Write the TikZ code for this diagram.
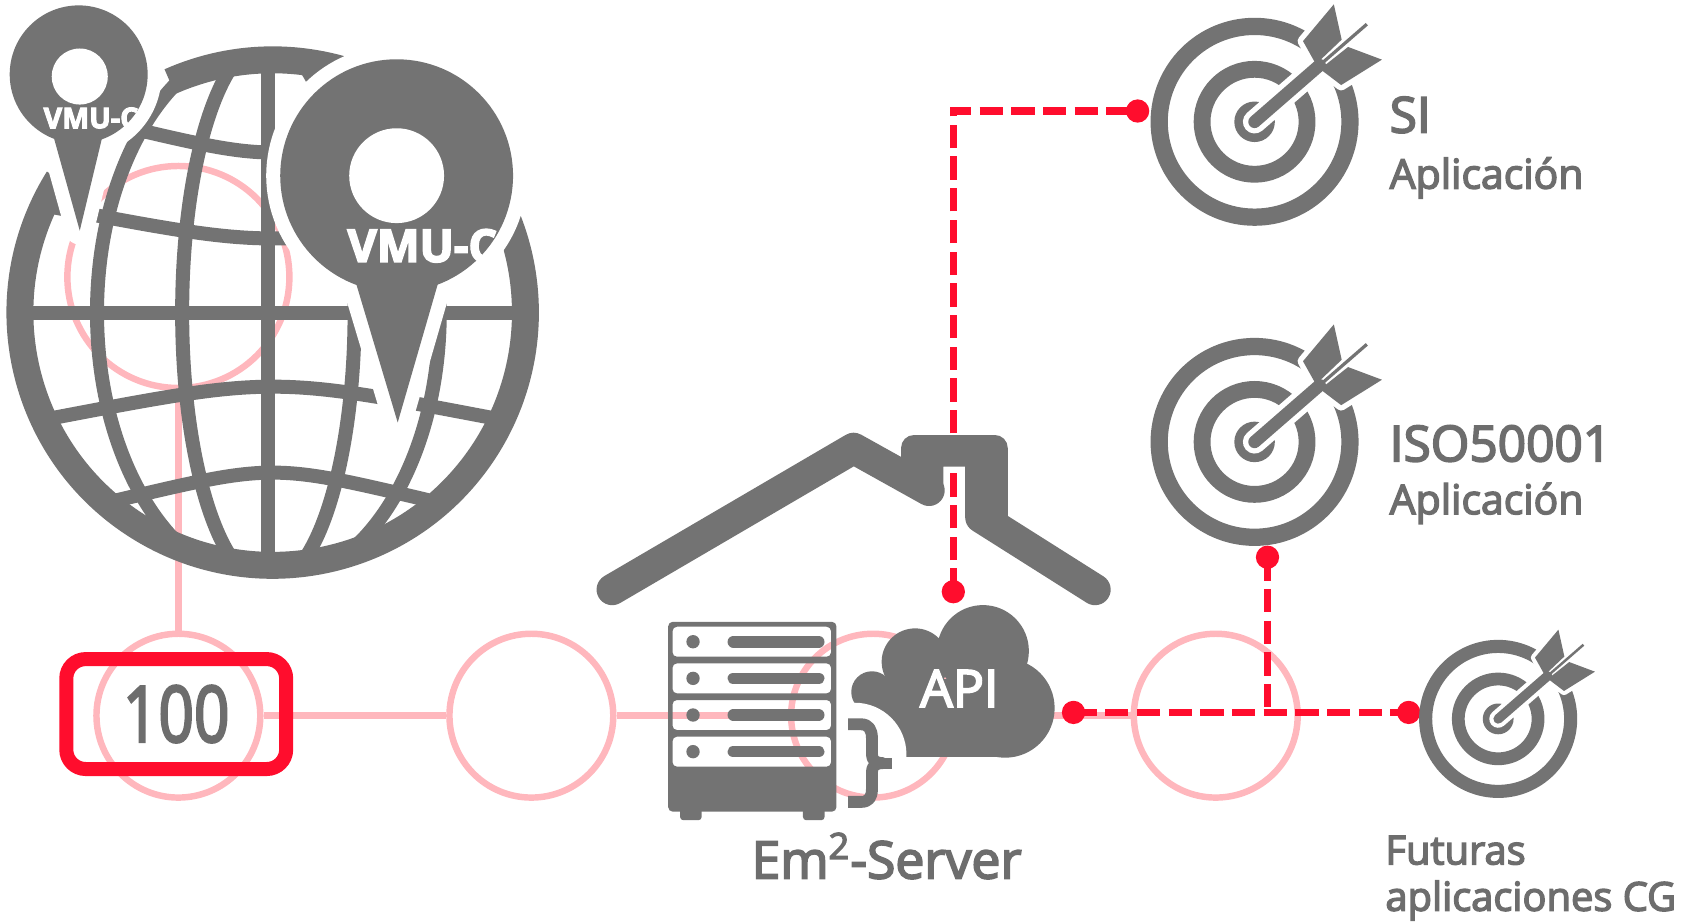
\documentclass[tikz,border=0pt]{standalone}
\usepackage{fontspec}
\setmainfont{Open Sans}[FakeBold=3.5]
\usepackage{graphicx}

\definecolor{IconGray}{HTML}{737373}
\definecolor{LabelGray}{HTML}{6D6D6D}
\definecolor{LinkPink}{HTML}{FFB7BD}
\definecolor{AlertRed}{HTML}{FF0D2D}

\tikzset{
	hub/.style={circle, draw=LinkPink, line width=3pt, inner sep=0pt},
	pinklink/.style={draw=LinkPink, line width=3pt},
	redlink/.style={draw=AlertRed, line width=3.5pt, dash pattern=on 10.8pt off 3.9pt},
	gridline/.style={draw=IconGray, line width=6.5pt},
	halo/.style={draw=white, line width=13pt, line join=round},
	tagtext/.style={text=LabelGray, anchor=base west, inner sep=0pt},
	pintext/.style={text=white, anchor=base west, inner sep=0pt},
	countbox/.style={draw=AlertRed, line width=6.5pt, rounded corners=9pt,
		minimum width=102pt, minimum height=51pt, inner sep=0pt, text=LabelGray,
		font=\fontsize{36pt}{36pt}\selectfont}
}

% target with a dart: centre x, centre y, scale
\newcommand{\dartboard}[3]{%
	\begin{scope}[shift={(#1,#2)}, scale=#3]
		\draw[IconGray, line width=8pt*#3] (0,0) circle (88.5);
		\draw[IconGray, line width=7.8pt*#3] (0,0) circle (48.7);
		\fill[IconGray] (0,0) circle (18.8);
		\begin{scope}[rotate=41]
			% white cut round the dart
			\draw[white, line width=10.85pt*#3, line cap=round] (0,0) -- (80,0);
			\draw[white, line width=6.5pt*#3] (78,0) -- (138,0);
			\filldraw[white, line width=5pt*#3, line join=round] (78,3) -- (83,27) -- (127,34) -- (111,4.5) -- cycle;
			\filldraw[white, line width=5pt*#3, line join=round] (78,-3) -- (83,-27) -- (127,-34) -- (111,-4.5) -- cycle;
			% dart
			\draw[IconGray, line width=5.85pt*#3, line cap=round] (0,0) -- (80,0);
			\draw[IconGray, line width=1.5pt*#3] (78,0) -- (138,0);
			\fill[IconGray] (78,3) -- (83,27) -- (127,34) -- (111,4.5) -- cycle;
			\fill[IconGray] (78,-3) -- (83,-27) -- (127,-34) -- (111,-4.5) -- cycle;
		\end{scope}
	\end{scope}}

\begin{document}
\begin{tikzpicture}[x=0.5pt, y=-0.5pt]
	\useasboundingbox (0,0) rectangle (1568,855);

	% pink hubs and links
	\node[hub, minimum size=103pt] (hub0) at (165.5,257) {};
	\node[hub, minimum size=76pt] (hub1) at (165.5,664) {};
	\node[hub, minimum size=76pt] (hub2) at (493,664) {};
	\node[hub, minimum size=76pt] (hub3) at (810,664) {};
	\node[hub, minimum size=76pt] (hub4) at (1128,664) {};
	\draw[pinklink] (hub0) -- (hub1);
	\draw[pinklink] (hub1) -- (hub2);
	\draw[pinklink] (hub2) -- (hub3);
	\draw[pinklink] (hub3) -- (hub4);

	% globe
	\begin{scope}
		\clip (253,290) circle (238);
		\draw[gridline] (249,40) -- (249,540);
		\draw[gridline] (249,290) ellipse [x radius=80, y radius=252];
		\draw[gridline] (249,290) ellipse [x radius=159, y radius=252];
		\draw[gridline] (0,290) -- (510,290);
		\draw[gridline] (48,192) .. controls (253,231) .. (458,192);
		\draw[gridline] (48,388) .. controls (253,349) .. (458,388);
		\draw[gridline] (109,116) .. controls (253,150) .. (397,116);
		\draw[gridline] (109,464) .. controls (253,430) .. (397,464);
	\end{scope}
	\draw[IconGray, line width=12.5pt] (253,290) ++(-148:234.5) arc[start angle=-148, end angle=-382, radius=234.5];
	\draw[IconGray, line width=12.5pt] (253,290) ++(-74:234.5) arc[start angle=-74, end angle=-114, radius=234.5];

	% map pins
	\draw[halo] (73,69) circle (64);
	\draw[halo] (45,110) -- (74,214) -- (99,110);
	\fill[IconGray] (73,69) circle (64);
	\fill[IconGray] (45,110) -- (74,214) -- (99,110) -- cycle;
	\fill[white] (74,71) circle (26);
	\node[pintext, font=\bfseries\fontsize{13.3pt}{13.3pt}\selectfont] (vmuSmall) at (40,119) {VMU-C};

	\draw[halo] (368,163) circle (108);
	\draw[halo] (323.5,240) -- (369,392) -- (413,240);
	\fill[IconGray] (368,163) circle (108);
	\fill[IconGray] (323.5,240) -- (369,392) -- (413,240) -- cycle;
	\fill[white] (368,163) circle (44);
	\node[pintext, font=\bfseries\fontsize{21pt}{21pt}\selectfont] (vmuBig) at (322,243) {VMU-C};

	% counter
	\node[countbox] (count) at (163.5,662.5) {\scalebox{0.8}[1]{100}};

	% red links
	\coordinate (apiTop) at (884.5,549);
	\coordinate (siDot) at (1055.5,103);
	\coordinate (apiSide) at (996,661);
	\coordinate (isoDot) at (1176,517);
	\coordinate (cgDot) at (1307,661);
	\draw[redlink] (apiTop) |- (siDot);
	\draw[redlink] (apiSide) -- (cgDot);
	\draw[redlink] (isoDot) -- (isoDot |- cgDot);
	\foreach \d in {apiTop,siDot,apiSide,isoDot,cgDot}
		\fill[AlertRed] (\d) circle (10.8);

	% roof
	\draw[IconGray, line width=14.5pt, line cap=round, line join=round] (568,547) -- (792,416) -- (862,455);
	\fill[IconGray] (836,452) [rounded corners=6pt] -- (836,403.6) -- (935,403.6) -- (935,440)
		[sharp corners] -- (935,486) -- (895.4,480) -- (895.4,433) -- (875.3,433) -- (875.3,452) -- cycle;
	\draw[IconGray, line width=14.5pt, line cap=round] (910,480) -- (1016,547);

	% server
	\fill[IconGray, even odd rule, rounded corners=2pt] (620,577) rectangle (776,753)
		foreach \sy in {581.5,615.5,649.5,683.5} { (624,\sy) rectangle (771,\sy+27.8) };
	\fill[IconGray, rounded corners=1.5pt] (631,748) rectangle (651,761);
	\fill[IconGray, rounded corners=1.5pt] (745,748) rectangle (765,761);
	\foreach \sy in {595.4,629.4,663.4,697.4} {
		\fill[IconGray] (643,\sy) circle (6.2);
		\draw[IconGray, line width=5.4pt, line cap=round] (680.4,\sy) -- (759.6,\sy);
	}

	% cloud
	\fill[IconGray] (912,604) circle (42.6);
	\fill[IconGray] (849,614) circle (31);
	\fill[IconGray] (809,642) circle (19.2);
	\fill[IconGray] (932.5,657) circle (46);
	\fill[IconGray] (809,630) rectangle (932.5,702);
	\begin{scope}
		\clip (780,645) rectangle (842,703);
		\fill[white] (793,700) circle (48);
	\end{scope}
	\node[text=white, anchor=base, inner sep=0pt, font=\fontsize{24pt}{24pt}\selectfont] (api) at (890,656) {API};
	\draw[IconGray, line width=5.5pt, line join=round] (787,672) -- (799,672) .. controls (806,672) and (809,677) .. (809,685)
		-- (809,700) .. controls (809,705) and (812,708) .. (819,708)
		.. controls (812,708) and (809,711) .. (809,716) -- (809,732)
		.. controls (809,740) and (806,744) .. (799,744) -- (787,744);
	\fill[IconGray] (816,703) rectangle (828,713.5);
	\node[tagtext, font=\fontsize{24pt}{24pt}\selectfont] (serverName) at (697,815) {Em\textsuperscript{2}-Server};

	% targets
	\dartboard{1164}{113}{1}
	\dartboard{1164}{410}{1}
	\dartboard{1390}{667}{0.76}

	\node[tagtext, font=\fontsize{23pt}{23pt}\selectfont] (siName) at (1289,123) {SI};
	\node[tagtext, font=\fontsize{19pt}{19pt}\selectfont] (siApp) at (1289,175) {Aplicación};
	\node[tagtext, font=\fontsize{23pt}{23pt}\selectfont] (isoName) at (1289,428) {ISO50001};
	\node[tagtext, font=\fontsize{19pt}{19pt}\selectfont] (isoApp) at (1289,477) {Aplicación};
	\node[tagtext, font=\fontsize{18.5pt}{18.5pt}\selectfont] (cgFuture) at (1285,802) {Futuras};
	\node[tagtext, font=\fontsize{18.5pt}{18.5pt}\selectfont] (cgApps) at (1285,845) {aplicaciones CG};
\end{tikzpicture}
\end{document}
